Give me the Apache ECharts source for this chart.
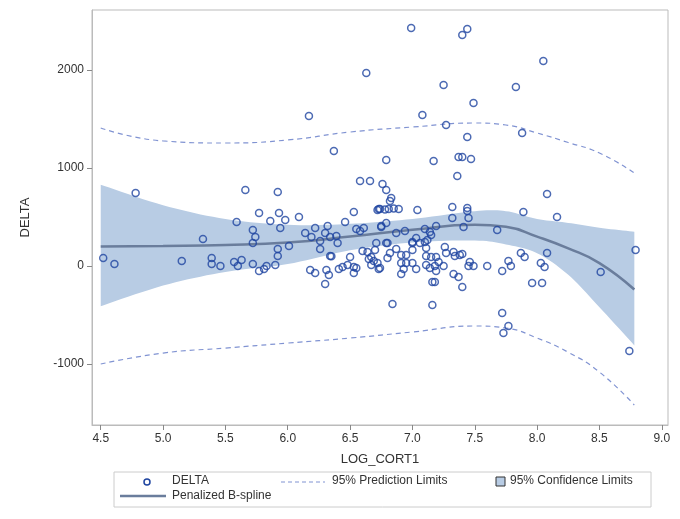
<!DOCTYPE html>
<html>
<head>
<meta charset="utf-8">
<script src="https://cdn.jsdelivr.net/npm/echarts@6/dist/echarts.min.js"></script>
<style>html,body{margin:0;padding:0;background:#fff}#main{width:680px;height:519px}</style>
</head>
<body>
<div id="main"></div>
<script>
// scatter points [LOG_CORT1, DELTA]
var points = [
  [4.78,745],[6.63,1969],[6.17,1530],[6.37,1173],[5.66,776],[5.92,755],[6.58,867],[6.66,867],
  [5.77,541],[5.93,541],[6.53,551],[6.99,2429],[7.44,2418],[7.40,2357],[8.05,2092],[7.25,1847],
  [7.83,1826],[7.49,1663],[7.08,1541],[7.27,1439],[7.44,1316],[7.88,1357],[6.79,1082],[7.17,1071],
  [7.37,1112],[7.40,1112],[7.47,1092],[7.36,918],[6.76,837],[6.79,776],[6.83,694],[6.82,663],
  [8.08,735],[6.74,582],[6.78,577],[6.81,582],[6.85,587],[6.89,582],[7.04,571],[7.32,602],
  [7.44,592],[7.44,561],[7.32,490],[7.45,490],[7.89,551],[8.16,500],[6.72,571],[6.73,582],
  [4.52,82],[4.61,20],[5.15,51],[5.32,276],[5.39,82],[5.39,20],[5.46,0],[5.59,449],
  [5.57,41],[5.63,61],[5.60,0],[5.72,367],[5.74,296],[5.72,235],[5.72,20],[5.86,459],
  [5.98,469],[6.09,500],[5.94,388],[5.77,-51],[5.81,-31],[5.83,0],[5.90,10],[5.92,173],
  [5.92,102],[6.01,204],[6.14,337],[6.19,296],[6.22,388],[6.26,255],[6.26,173],[6.30,337],
  [6.32,408],[6.34,296],[6.39,306],[6.40,235],[6.46,449],[6.55,378],[6.58,357],[6.61,388],
  [6.18,-41],[6.22,-71],[6.31,-41],[6.33,-92],[6.30,-184],[6.34,102],[6.35,100],[6.41,-31],
  [6.44,-10],[6.48,10],[6.50,92],[6.53,-10],[6.53,-71],[6.55,-20],[6.60,153],[6.64,143],
  [6.67,92],[6.70,163],[6.71,235],[6.65,71],[6.69,51],[6.67,10],[6.72,31],[6.73,-31],
  [6.75,408],[6.79,439],[6.75,398],[6.87,337],[6.94,357],[7.10,378],[7.14,347],[7.15,316],
  [7.19,408],[7.41,398],[7.68,367],[6.79,235],[6.80,235],[7.00,235],[7.00,245],[7.03,286],
  [7.06,235],[7.10,245],[7.12,265],[7.00,163],[6.87,173],[6.82,133],[6.80,82],[6.91,112],
  [6.95,112],[6.91,31],[6.95,31],[7.00,31],[6.74,-20],[6.93,-31],[7.03,-31],[6.91,-82],
  [7.11,184],[7.11,102],[7.15,92],[7.19,92],[7.21,41],[7.18,0],[7.11,10],[7.14,-20],
  [7.19,-51],[7.25,0],[7.26,194],[7.27,133],[7.33,143],[7.34,102],[7.38,112],[7.40,122],
  [7.46,41],[7.45,0],[7.49,0],[7.33,-82],[7.37,-112],[7.40,-214],[7.16,-163],[7.18,-163],
  [7.16,-398],[6.84,-388],[7.60,0],[7.72,-51],[7.77,51],[7.79,0],[7.87,133],[7.90,92],
  [8.03,31],[8.06,-10],[8.08,133],[7.96,-173],[8.04,-173],[7.72,-480],[7.77,-612],[7.73,-684],
  [8.51,-61],[8.79,163],[8.74,-867]
];
var curveX = [4.5, 5.0, 5.5, 6.0, 6.5, 7.0, 7.5, 7.75, 8.0, 8.25, 8.5, 8.78];
var fitY   = [200, 205, 215, 240, 300, 370, 420, 400, 300, 180, 30, -240];
var clUpper = [830, 620, 480, 420, 430, 480, 560, 560, 480, 440, 390, 350];
var clLower = [-410, -200, -60, 20, 160, 240, 260, 220, 130, -90, -420, -810];
var plUpper = [1408, 1276, 1255, 1286, 1367, 1418, 1459, 1439, 1357, 1260, 1153, 949];
var plLower = [-1000, -888, -837, -786, -735, -673, -612, -633, -735, -880, -1082, -1418];
var xTicks = [4.5, 5.0, 5.5, 6.0, 6.5, 7.0, 7.5, 8.0, 8.5, 9.0];
var yTicks = [-1000, 0, 1000, 2000];

function pairs(ys) { return curveX.map(function (x, i) { return [x, ys[i]]; }); }

var bandData = curveX.map(function (x, i) { return [x, clLower[i], clUpper[i]]; });

// Catmull-Rom pass through pixel points, for a smooth band edge
function smoothPath(pts) {
  var out = [];
  for (var i = 0; i < pts.length - 1; i++) {
    var p0 = pts[Math.max(i - 1, 0)], p1 = pts[i], p2 = pts[i + 1], p3 = pts[Math.min(i + 2, pts.length - 1)];
    for (var s = 0; s < 10; s++) {
      var t = s / 10, t2 = t * t, t3 = t2 * t;
      out.push([0, 1].map(function (k) {
        return 0.5 * (2 * p1[k] + (-p0[k] + p2[k]) * t + (2 * p0[k] - 5 * p1[k] + 4 * p2[k] - p3[k]) * t2 +
          (-p0[k] + 3 * p1[k] - 3 * p2[k] + p3[k]) * t3);
      }));
    }
  }
  out.push(pts[pts.length - 1]);
  return out;
}

var myChart = echarts.init(document.getElementById('main'));
var font = 'Liberation Sans, Arial, sans-serif';
var axisLineStyle = { show: true, onZero: false, lineStyle: { color: '#bbb' } };
myChart.setOption({
  animation: false,
  grid: { left: 92, right: 12, top: 10, bottom: 94, show: true, borderColor: '#bbb', borderWidth: 1 },
  xAxis: {
    type: 'value', min: 4.43, max: 9.05,
    name: 'LOG_CORT1', nameLocation: 'middle', nameGap: 28,
    nameTextStyle: { fontFamily: font, fontSize: 13, color: '#333' },
    axisLine: axisLineStyle, splitLine: { show: false },
    axisTick: { show: true, customValues: xTicks, length: 5, lineStyle: { color: '#888' } },
    axisLabel: { customValues: xTicks, fontFamily: font, fontSize: 12, color: '#333',
      formatter: function (v) { return v.toFixed(1); } }
  },
  yAxis: {
    type: 'value', min: -1622, max: 2612,
    name: 'DELTA', nameLocation: 'middle', nameGap: 60,
    nameTextStyle: { fontFamily: font, fontSize: 13, color: '#333' },
    axisLine: axisLineStyle, splitLine: { show: false },
    axisTick: { show: true, customValues: yTicks, length: 5, lineStyle: { color: '#888' } },
    axisLabel: { customValues: yTicks, fontFamily: font, fontSize: 12, color: '#333',
      formatter: function (v) { return String(v); } }
  },
  series: [
    { type: 'custom', data: bandData, z: 1, clip: true,
      renderItem: function (params, api) {
        if (params.dataIndex !== 0) return null;
        var top = smoothPath(bandData.map(function (d) { return api.coord([d[0], d[2]]); }));
        var bot = smoothPath(bandData.map(function (d) { return api.coord([d[0], d[1]]); })).reverse();
        return { type: 'polygon', shape: { points: top.concat(bot) },
          style: { fill: '#b8cce4' } };
      } },
    { type: 'line', data: pairs(plUpper), symbol: 'none', smooth: true, z: 2,
      lineStyle: { color: '#8093d2', width: 1.2, type: [5, 4] } },
    { type: 'line', data: pairs(plLower), symbol: 'none', smooth: true, z: 2,
      lineStyle: { color: '#8093d2', width: 1.2, type: [5, 4] } },
    { type: 'line', data: pairs(fitY), symbol: 'none', smooth: true, z: 3,
      lineStyle: { color: '#6a7d9c', width: 2.5 } },
    { type: 'scatter', data: points, symbol: 'circle', symbolSize: 7, z: 4,
      itemStyle: { color: 'rgba(255,255,255,0)', borderColor: '#1f45a0', borderWidth: 1.5 } }
  ],
  graphic: [
    { type: 'rect', shape: { x: 114, y: 472, width: 537, height: 35 },
      style: { fill: '#fff', stroke: '#ccc', lineWidth: 1 } },
    { type: 'circle', shape: { cx: 147, cy: 482, r: 3 },
      style: { fill: 'none', stroke: '#1f45a0', lineWidth: 1.5 } },
    { type: 'text', x: 172, y: 475, style: { text: 'DELTA', font: '12px ' + font, fill: '#333' } },
    { type: 'line', shape: { x1: 281, y1: 482, x2: 325, y2: 482 },
      style: { stroke: '#8093d2', lineWidth: 1, lineDash: [4, 3] } },
    { type: 'text', x: 332, y: 475, style: { text: '95% Prediction Limits', font: '12px ' + font, fill: '#333' } },
    { type: 'rect', shape: { x: 496, y: 477, width: 9, height: 9 },
      style: { fill: '#b8cce4', stroke: '#333', lineWidth: 1 } },
    { type: 'text', x: 510, y: 475, style: { text: '95% Confidence Limits', font: '12px ' + font, fill: '#333' } },
    { type: 'line', shape: { x1: 120, y1: 496, x2: 166, y2: 496 },
      style: { stroke: '#6a7d9c', lineWidth: 2.5 } },
    { type: 'text', x: 172, y: 490, style: { text: 'Penalized B-spline', font: '12px ' + font, fill: '#333' } }
  ]
});
</script>
</body>
</html>
